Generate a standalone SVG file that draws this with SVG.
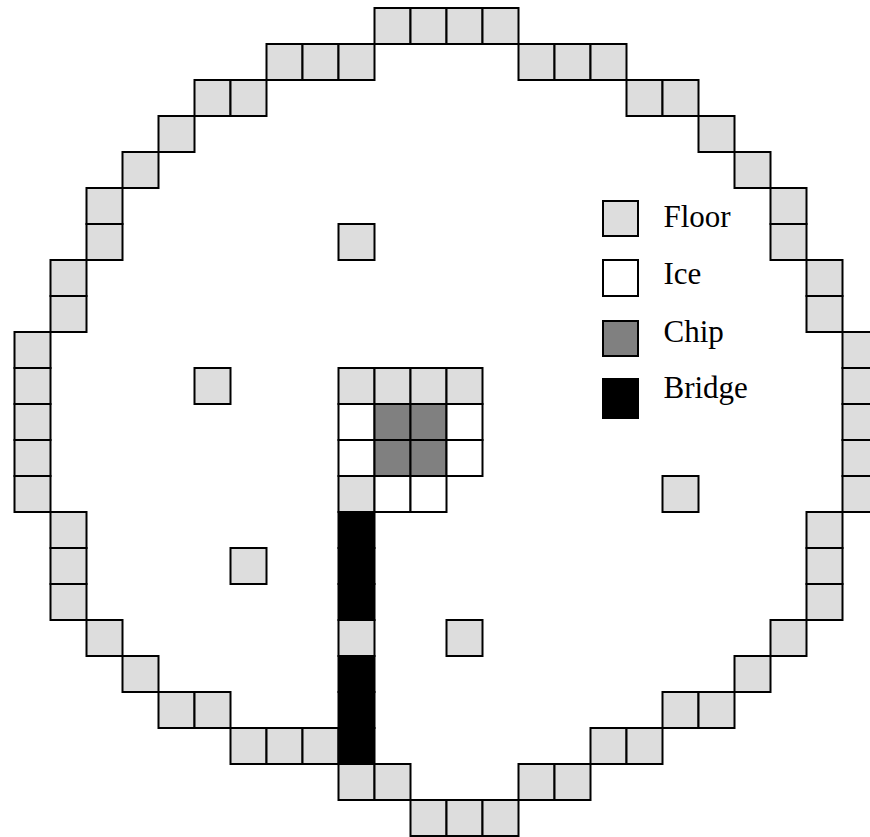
<svg xmlns="http://www.w3.org/2000/svg" width="870" height="837" viewBox="0 0 870 837">
<style>
  .cell { stroke: #000; stroke-width: 2; }
  .floor { fill: #dddddd; }
  .ice { fill: #ffffff; }
  .chip { fill: #808080; }
  .bridge { fill: #000000; }
  .label { font-family: 'Liberation Serif', 'DejaVu Serif', serif; font-size: 31px; fill: #000; }
</style>
<rect x="0" y="0" width="870" height="837" fill="#ffffff"/>
<g id="board" transform="translate(14.5,8)">
  <g id="wall">
    <rect class="cell floor" x="360" y="0" width="36" height="36"/>
    <rect class="cell floor" x="396" y="0" width="36" height="36"/>
    <rect class="cell floor" x="432" y="0" width="36" height="36"/>
    <rect class="cell floor" x="468" y="0" width="36" height="36"/>
    <rect class="cell floor" x="252" y="36" width="36" height="36"/>
    <rect class="cell floor" x="288" y="36" width="36" height="36"/>
    <rect class="cell floor" x="324" y="36" width="36" height="36"/>
    <rect class="cell floor" x="504" y="36" width="36" height="36"/>
    <rect class="cell floor" x="540" y="36" width="36" height="36"/>
    <rect class="cell floor" x="576" y="36" width="36" height="36"/>
    <rect class="cell floor" x="180" y="72" width="36" height="36"/>
    <rect class="cell floor" x="216" y="72" width="36" height="36"/>
    <rect class="cell floor" x="612" y="72" width="36" height="36"/>
    <rect class="cell floor" x="648" y="72" width="36" height="36"/>
    <rect class="cell floor" x="144" y="108" width="36" height="36"/>
    <rect class="cell floor" x="684" y="108" width="36" height="36"/>
    <rect class="cell floor" x="108" y="144" width="36" height="36"/>
    <rect class="cell floor" x="720" y="144" width="36" height="36"/>
    <rect class="cell floor" x="72" y="180" width="36" height="36"/>
    <rect class="cell floor" x="756" y="180" width="36" height="36"/>
    <rect class="cell floor" x="72" y="216" width="36" height="36"/>
    <rect class="cell floor" x="756" y="216" width="36" height="36"/>
    <rect class="cell floor" x="36" y="252" width="36" height="36"/>
    <rect class="cell floor" x="792" y="252" width="36" height="36"/>
    <rect class="cell floor" x="36" y="288" width="36" height="36"/>
    <rect class="cell floor" x="792" y="288" width="36" height="36"/>
    <rect class="cell floor" x="0" y="324" width="36" height="36"/>
    <rect class="cell floor" x="0" y="360" width="36" height="36"/>
    <rect class="cell floor" x="0" y="396" width="36" height="36"/>
    <rect class="cell floor" x="0" y="432" width="36" height="36"/>
    <rect class="cell floor" x="0" y="468" width="36" height="36"/>
    <rect class="cell floor" x="828" y="324" width="36" height="36"/>
    <rect class="cell floor" x="828" y="360" width="36" height="36"/>
    <rect class="cell floor" x="828" y="396" width="36" height="36"/>
    <rect class="cell floor" x="828" y="432" width="36" height="36"/>
    <rect class="cell floor" x="828" y="468" width="36" height="36"/>
    <rect class="cell floor" x="36" y="504" width="36" height="36"/>
    <rect class="cell floor" x="36" y="540" width="36" height="36"/>
    <rect class="cell floor" x="36" y="576" width="36" height="36"/>
    <rect class="cell floor" x="792" y="504" width="36" height="36"/>
    <rect class="cell floor" x="792" y="540" width="36" height="36"/>
    <rect class="cell floor" x="792" y="576" width="36" height="36"/>
    <rect class="cell floor" x="72" y="612" width="36" height="36"/>
    <rect class="cell floor" x="756" y="612" width="36" height="36"/>
    <rect class="cell floor" x="108" y="648" width="36" height="36"/>
    <rect class="cell floor" x="720" y="648" width="36" height="36"/>
    <rect class="cell floor" x="144" y="684" width="36" height="36"/>
    <rect class="cell floor" x="180" y="684" width="36" height="36"/>
    <rect class="cell floor" x="648" y="684" width="36" height="36"/>
    <rect class="cell floor" x="684" y="684" width="36" height="36"/>
    <rect class="cell floor" x="216" y="720" width="36" height="36"/>
    <rect class="cell floor" x="252" y="720" width="36" height="36"/>
    <rect class="cell floor" x="288" y="720" width="36" height="36"/>
    <rect class="cell floor" x="576" y="720" width="36" height="36"/>
    <rect class="cell floor" x="612" y="720" width="36" height="36"/>
    <rect class="cell floor" x="324" y="756" width="36" height="36"/>
    <rect class="cell floor" x="360" y="756" width="36" height="36"/>
    <rect class="cell floor" x="504" y="756" width="36" height="36"/>
    <rect class="cell floor" x="540" y="756" width="36" height="36"/>
    <rect class="cell floor" x="396" y="792" width="36" height="36"/>
    <rect class="cell floor" x="432" y="792" width="36" height="36"/>
    <rect class="cell floor" x="468" y="792" width="36" height="36"/>
  </g>
  <g id="islands">
    <rect class="cell floor" x="324" y="216" width="36" height="36"/>
    <rect class="cell floor" x="180" y="360" width="36" height="36"/>
    <rect class="cell floor" x="648" y="468" width="36" height="36"/>
    <rect class="cell floor" x="216" y="540" width="36" height="36"/>
    <rect class="cell floor" x="432" y="612" width="36" height="36"/>
  </g>
  <g id="chip-block">
    <rect class="cell floor" x="324" y="360" width="36" height="36"/>
    <rect class="cell floor" x="360" y="360" width="36" height="36"/>
    <rect class="cell floor" x="396" y="360" width="36" height="36"/>
    <rect class="cell floor" x="432" y="360" width="36" height="36"/>
    <rect class="cell ice" x="324" y="396" width="36" height="36"/>
    <rect class="cell chip" x="360" y="396" width="36" height="36"/>
    <rect class="cell chip" x="396" y="396" width="36" height="36"/>
    <rect class="cell ice" x="432" y="396" width="36" height="36"/>
    <rect class="cell ice" x="324" y="432" width="36" height="36"/>
    <rect class="cell chip" x="360" y="432" width="36" height="36"/>
    <rect class="cell chip" x="396" y="432" width="36" height="36"/>
    <rect class="cell ice" x="432" y="432" width="36" height="36"/>
    <rect class="cell floor" x="324" y="468" width="36" height="36"/>
    <rect class="cell ice" x="360" y="468" width="36" height="36"/>
    <rect class="cell ice" x="396" y="468" width="36" height="36"/>
  </g>
  <g id="bridge-path">
    <rect class="cell bridge" x="324" y="504" width="36" height="36"/>
    <rect class="cell bridge" x="324" y="540" width="36" height="36"/>
    <rect class="cell bridge" x="324" y="576" width="36" height="36"/>
    <rect class="cell floor" x="324" y="612" width="36" height="36"/>
    <rect class="cell bridge" x="324" y="648" width="36" height="36"/>
    <rect class="cell bridge" x="324" y="684" width="36" height="36"/>
    <rect class="cell bridge" x="324" y="720" width="36" height="36"/>
  </g>
</g>
<g id="legend">
  <g id="legend-floor">
    <rect class="cell floor" x="603" y="201" width="35" height="35"/>
    <text class="label" x="663.5" y="227.3" font-family="Liberation Serif, serif">Floor</text>
  </g>
  <g id="legend-ice">
    <rect class="cell ice" x="603" y="260" width="35" height="36"/>
    <text class="label" x="663.5" y="284.3" font-family="Liberation Serif, serif">Ice</text>
  </g>
  <g id="legend-chip">
    <rect class="cell chip" x="603" y="321" width="35" height="35"/>
    <text class="label" x="663.5" y="341.7" font-family="Liberation Serif, serif">Chip</text>
  </g>
  <g id="legend-bridge">
    <rect class="cell bridge" x="603" y="379" width="35" height="39"/>
    <text class="label" x="663.5" y="398.3" font-family="Liberation Serif, serif">Bridge</text>
  </g>
</g>
</svg>
